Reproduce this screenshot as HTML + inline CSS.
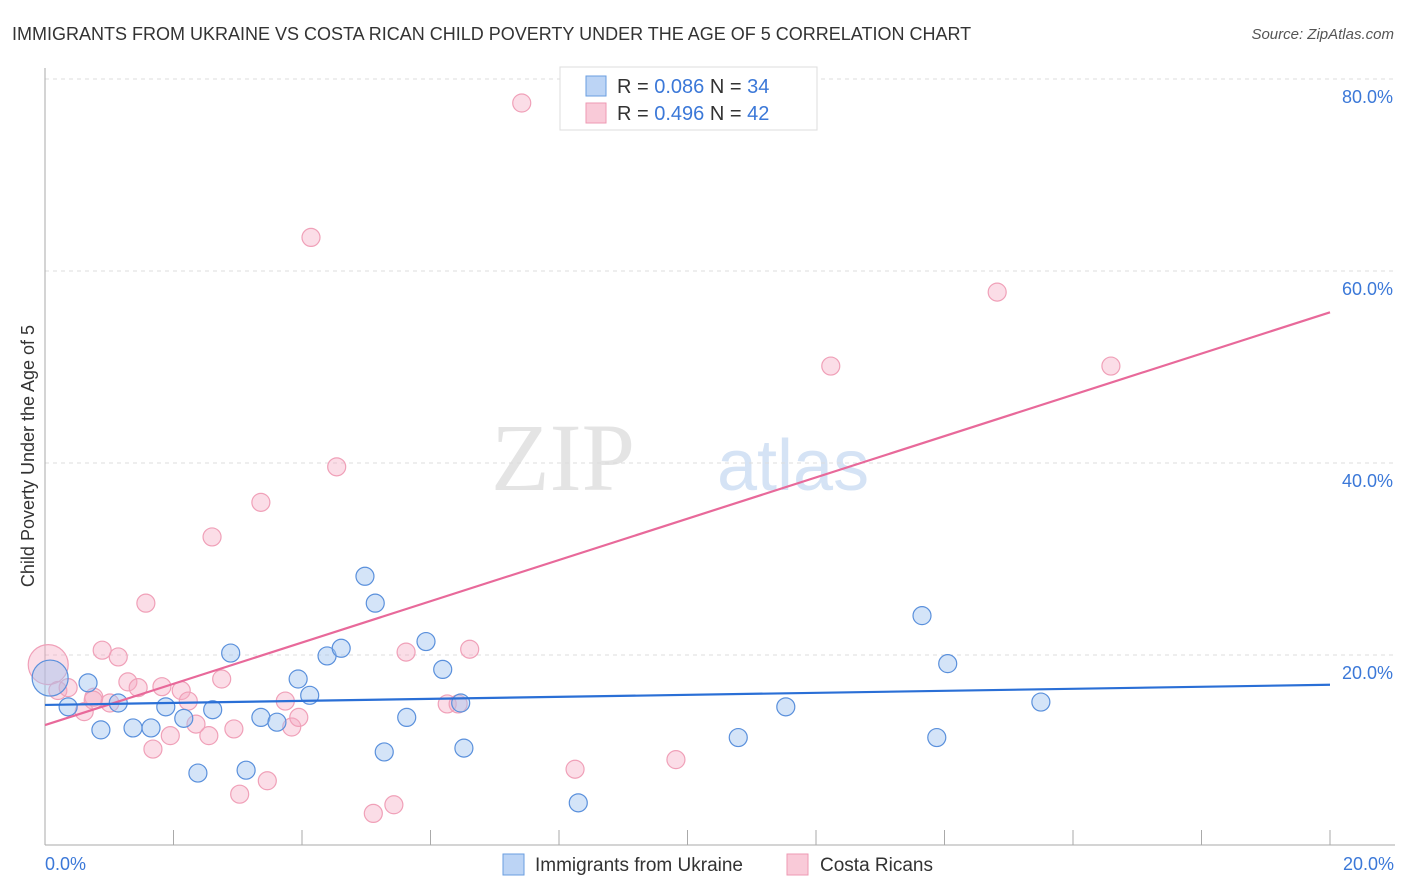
<!DOCTYPE html>
<html><head><meta charset="utf-8"><style>
body{margin:0;background:#fff;font-family:"Liberation Sans",sans-serif;}
svg{display:block}
</style></head><body>
<svg id="chart" width="1406" height="892">
<text x="12" y="40" font-size="18" fill="#333">IMMIGRANTS FROM UKRAINE VS COSTA RICAN CHILD POVERTY UNDER THE AGE OF 5 CORRELATION CHART</text>
<text x="1394" y="39" font-size="15" fill="#555" font-style="italic" text-anchor="end">Source: ZipAtlas.com</text>
<text x="635" y="490" font-size="96" fill="#e4e4e4" text-anchor="end" font-family="Liberation Serif,serif">ZIP</text>
<text x="717" y="490" font-size="72" fill="#d5e3f5">atlas</text>
<g id="grid"></g>
<g id="axes"></g>
<g id="marks"></g>
<text transform="translate(34,456) rotate(-90)" font-size="18" fill="#333" text-anchor="middle">Child Poverty Under the Age of 5</text>
<g>
<rect x="560" y="67" width="257" height="63" fill="#fff" stroke="#ddd"/>
<rect x="586" y="76" width="20" height="20" fill="#bcd4f5" stroke="#6a9ee0"/>
<text x="617" y="93" font-size="20" fill="#333">R = <tspan fill="#3b78d8">0.086</tspan>   N = <tspan fill="#3b78d8">34</tspan></text>
<rect x="586" y="103" width="20" height="20" fill="#f9cad8" stroke="#ee99b3"/>
<text x="617" y="120" font-size="20" fill="#333">R = <tspan fill="#3b78d8">0.496</tspan>   N = <tspan fill="#3b78d8">42</tspan></text>
</g>
<g>
<rect x="503" y="854" width="21" height="21" fill="#bcd4f5" stroke="#6a9ee0"/>
<text x="535" y="871" font-size="19" fill="#333">Immigrants from Ukraine</text>
<rect x="787" y="854" width="21" height="21" fill="#f9cad8" stroke="#ee99b3"/>
<text x="820" y="871" font-size="19" fill="#333">Costa Ricans</text>
</g>
</svg>
<script>
const blueX=[0.08,0.36,0.67,0.87,1.14,1.37,1.65,1.88,2.16,2.38,2.61,2.89,3.13,3.36,3.61,3.94,4.12,4.39,4.61,4.98,5.14,5.28,5.63,5.93,6.19,6.47,6.52,8.30,10.79,11.53,13.65,13.88,14.05,15.50];
const blueY=[17.6,14.6,17.1,12.2,15.0,12.4,12.4,14.6,13.4,7.7,14.3,20.2,8.0,13.5,13.0,17.5,15.8,19.9,20.7,28.2,25.4,9.9,13.5,21.4,18.5,15.0,10.3,4.6,11.4,14.6,24.1,11.4,19.1,15.1];
const pinkX=[0.05,0.20,0.36,0.61,0.76,0.89,1.01,1.14,1.29,1.45,1.57,1.68,1.82,1.95,2.12,2.23,2.35,2.55,2.60,2.75,2.94,3.03,3.36,3.46,3.74,3.84,3.95,4.14,4.54,5.11,5.43,5.62,6.26,6.43,6.61,7.42,8.25,9.82,12.23,14.82,16.59,0.75];
const pinkY=[19.0,16.3,16.6,14.1,15.6,20.5,15.0,19.8,17.2,16.6,25.4,10.2,16.7,11.6,16.3,15.2,12.8,11.6,32.3,17.5,12.3,5.5,35.9,6.9,15.2,12.5,13.5,63.5,39.6,3.5,4.4,20.3,14.9,14.9,20.6,77.5,8.1,9.1,50.1,57.8,50.1,15.3];
const blueTrend=[14.8,16.9];
const pinkTrend=[12.7,55.7];
const yTicks=[20,40,60,80];
const xTickLabels=["0.0%","20.0%"];
const NS="http://www.w3.org/2000/svg";
const X=v=>45+v*64.25, Y=v=>847-v*9.6;
function mk(tag,attrs,parent){const e=document.createElementNS(NS,tag);for(const k in attrs)e.setAttribute(k,attrs[k]);parent.appendChild(e);return e;}
const grid=document.getElementById('grid'),axes=document.getElementById('axes'),marks=document.getElementById('marks');
yTicks.forEach(t=>{
 const l=mk('line',{x1:45,x2:1395,y1:Y(t),y2:Y(t),stroke:'#ddd','stroke-dasharray':'4,4'},grid);
 
 
 const tx=mk('text',{x:1393,y:Y(t)+24,'font-size':18,fill:'#3b78d8','text-anchor':'end'},axes);
 tx.textContent=t.toFixed(1)+'%';
 
 
});
let a=mk('line',{x1:45,x2:45,y1:68,y2:845,stroke:'#aaa'},axes);


a=mk('line',{x1:45,x2:1395,y1:845,y2:845,stroke:'#aaa'},axes);


for(let i=0;i<=10;i++){
 const t=mk('line',{x1:X(i*2),x2:X(i*2),y1:830,y2:845,stroke:'#aaa'},axes);
 
 
}
let xl=mk('text',{x:45,y:870,'font-size':18,fill:'#3b78d8'},axes);xl.textContent=xTickLabels[0];


xl=mk('text',{x:1394,y:870,'font-size':18,fill:'#3b78d8','text-anchor':'end'},axes);xl.textContent=xTickLabels[1];


pinkX.forEach((v,i)=>{
 const c=mk('circle',{cx:X(v),cy:Y(pinkY[i]),r:i===0?20:9,fill:'rgba(246,170,195,0.4)',stroke:'#f0a0b8','stroke-width':1.2},marks);
 
 
});
blueX.forEach((v,i)=>{
 const c=mk('circle',{cx:X(v),cy:Y(blueY[i]),r:i===0?18:9,fill:'rgba(160,195,240,0.45)',stroke:'#5a90dc','stroke-width':1.2},marks);
 
 
});
let tl=mk('line',{x1:X(0),x2:X(20),y1:Y(pinkTrend[0]),y2:Y(pinkTrend[1]),stroke:'#e8699a','stroke-width':2.2},marks);


tl=mk('line',{x1:X(0),x2:X(20),y1:Y(blueTrend[0]),y2:Y(blueTrend[1]),stroke:'#2a6fd6','stroke-width':2.2},marks);


</script>
</body></html>
